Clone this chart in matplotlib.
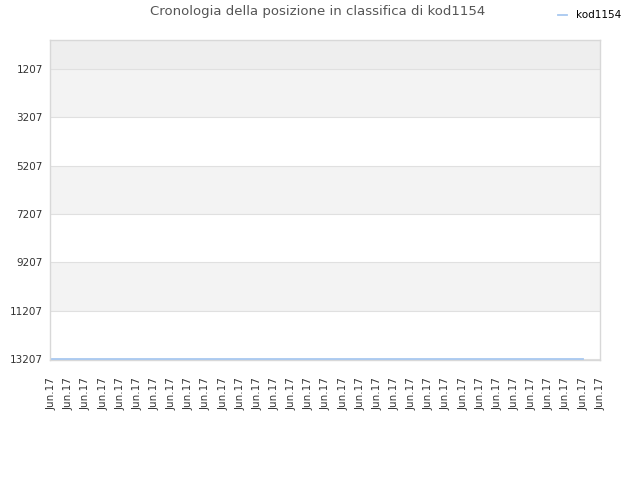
import numpy as np
import matplotlib
matplotlib.use('Agg')
import matplotlib.pyplot as plt

# Rank history for kod1154 (all at the same position)
player = "kod1154"
ranks = [13207] * 32
tick_labels = ["Jun.17"] * 33
y_ticks = [1207, 3207, 5207, 7207, 9207, 11207, 13207]

fig = plt.figure(figsize=(6.4, 4.8), dpi=100)
ax = fig.add_axes([0.078, 0.25, 0.86, 0.667])

y_top = 1
y_bottom = 13250

# alternating bands between grid lines
edges = [y_top] + y_ticks + [y_bottom]
band_colors = ['#eeeeee', '#f3f3f3', '#ffffff', '#f3f3f3', '#ffffff', '#f3f3f3', '#ffffff', '#ffffff']
for i in range(len(edges) - 1):
    ax.axhspan(edges[i], edges[i + 1], color=band_colors[i], zorder=0, lw=0)

for yt in y_ticks:
    ax.axhline(yt, color='#e0e0e0', lw=0.8, zorder=1)

ax.plot(np.arange(len(ranks)), ranks, color='#a8c8f0', lw=1.3, label=player, zorder=3)

ax.set_ylim(y_bottom, y_top)
ax.set_xlim(-0.1, len(tick_labels) - 1.2)
ax.set_yticks(y_ticks)
ax.set_yticklabels([str(v) for v in y_ticks], fontsize=7.5, color='#333333')
ax.set_xticks(np.arange(len(tick_labels)))
ax.set_xticklabels(tick_labels, rotation=90, fontsize=7.5, color='#333333')
ax.tick_params(axis='y', length=0, pad=5)
ax.tick_params(axis='x', length=0, pad=12)

for s in ax.spines.values():
    s.set_color('#d8d8d8')
    s.set_linewidth(1)

fig.text(0.497, 0.975, "Cronologia della posizione in classifica di " + player,
         ha='center', va='center', fontsize=9.5, color='#555555')
ax.legend(loc='upper right', bbox_to_anchor=(1.045, 1.105), frameon=False,
          fontsize=7.5, handlelength=0.9, handletextpad=0.8, borderaxespad=0)

plt.savefig('out.png', dpi=100)
plt.close()
